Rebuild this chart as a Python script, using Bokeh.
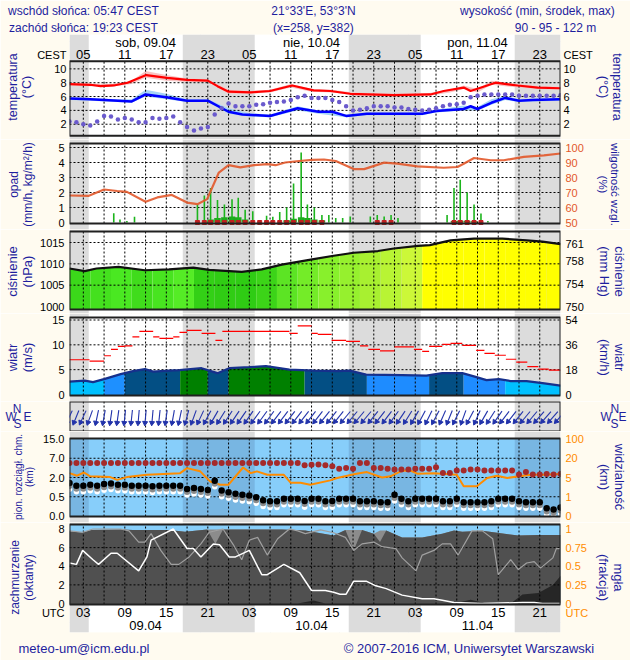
import numpy as np
from bokeh.plotting import figure
from bokeh.models import Range1d, LinearAxis, FixedTicker
from bokeh.layouts import column
from bokeh.embed import file_html
from bokeh.resources import INLINE
from bokeh.core.properties import value

# ===================== DATA =====================
# time axis: hours since 09.04 00 UTC
H_START, H_END = 1, 72
sunrise_h = [3.78, 27.78, 51.78]
sunset_h = [17.38, 41.38, 65.38]
label_hours = [3, 9, 15, 21, 27, 33, 39, 45, 51, 57, 63, 69]
day_mid_h = [12, 36, 60]
days_cest = ["sob, 09.04", "nie, 10.04", "pon, 11.04"]
days_utc = ["09.04", "10.04", "11.04"]
header_line1 = ["wschód słońca: 05:47 CEST", "21°33'E, 53°3'N", "wysokość (min, środek, max)"]
header_line2 = ["zachód słońca: 19:23 CEST", "(x=258, y=382)", "90 - 95 - 122 m"]
footer = ["meteo-um@icm.edu.pl", "© 2007-2016 ICM, Uniwersytet Warszawski"]

# temperature (°C)
temp_h = [1, 4, 5.5, 7.4, 9.4, 12.1, 15.1, 18, 21, 22.4, 24, 27.2, 30, 33.2, 36.3, 38.7, 41.6, 47.9, 53.2, 55.1, 58, 59, 62.6, 65.8, 68.7, 72]
temp = [7.8, 7.7, 7.5, 7.6, 8.0, 9.1, 8.7, 8.4, 8.3, 7.5, 6.7, 6.6, 6.8, 7.6, 6.9, 6.8, 6.4, 6.2, 6.3, 6.8, 7.3, 6.8, 8.0, 7.6, 7.3, 7.2]
temp_band_h = [1, 4, 7, 10, 12, 15, 18, 21, 24, 27, 30, 33, 36, 39, 42, 48, 53, 56, 58, 60, 62, 66, 69, 72]
temp_lo = [7.6, 7.5, 7.4, 7.8, 8.7, 8.3, 8.1, 8.1, 6.4, 6.4, 6.6, 7.3, 6.7, 6.6, 6.2, 6.0, 6.1, 6.6, 7.1, 6.6, 7.7, 7.3, 7.1, 7.0]
temp_hi = [8.0, 7.9, 7.8, 8.3, 9.7, 9.1, 8.6, 8.5, 7.0, 6.8, 7.0, 7.8, 7.1, 7.0, 6.6, 6.4, 6.5, 7.0, 7.6, 7.1, 8.3, 7.8, 7.5, 7.4]
dew_h = [1, 4, 6, 8, 10, 12, 15, 18, 21, 24, 26, 30, 34, 37, 39, 41, 44, 48, 52, 54, 58, 59, 60, 62, 64, 66, 68, 72]
dew = [5.7, 5.6, 5.5, 5.4, 5.3, 6.3, 5.9, 5.4, 5.4, 3.8, 3.4, 3.2, 4.3, 3.8, 3.8, 3.2, 3.5, 3.5, 3.5, 3.9, 4.2, 4.6, 4.2, 5.1, 5.8, 5.4, 5.5, 5.6]
dew_band_h = [1, 4, 8, 10, 12, 15, 18, 21, 24, 27, 30, 34, 37, 41, 44, 48, 52, 54, 58, 60, 62, 64, 66, 68, 72]
dew_lo = [5.5, 5.4, 5.2, 5.1, 6.0, 5.6, 5.2, 5.2, 3.5, 3.1, 3.0, 4.0, 3.5, 3.0, 3.3, 3.3, 3.3, 3.7, 4.0, 4.0, 4.8, 5.5, 5.2, 5.3, 5.4]
dew_hi = [5.9, 5.8, 5.6, 5.6, 7.0, 6.4, 5.6, 5.6, 4.3, 3.6, 3.4, 4.6, 4.0, 3.4, 3.7, 3.7, 3.7, 4.1, 4.7, 4.5, 5.6, 6.1, 5.6, 5.7, 5.8]
hourly_h = list(range(1, 73))
ground_t = [2.4, 2.3, 2.0, 1.8, 2.4, 3.2, 3.1, 2.7, 2.9, 2.7, 2.3, 2.3, 2.9, 2.8, 2.9, 3.1, 2.3, 1.6, 1.1, 1.4,
            1.6, 3.4, 4.3, 5.0, 4.6, 4.6, 4.6, 4.8, 4.9, 5.1, 5.2, 5.3, 5.5, 5.9, 6.1,
            5.8, 5.8, 5.8, 5.5, 5.2, 4.6, 4.0, 4.1, 4.3, 4.6, 4.6, 4.6, 4.4, 4.4, 4.2, 4.1, 4.0, 4.1, 4.3,
            4.6, 4.8, 4.9, 5.1, 5.9, 6.1, 6.3, 6.3, 6.3, 6.3, 6.3, 6.1, 6.1, 6.1, 6.1, 6.1, 6.1, 6.2]

# precipitation (mm/h) and relative humidity (%)
rain_h = [7.4, 8.3, 9.3, 10.4, 19.5, 20.5, 21.4, 22.4, 23.4, 24.5, 25.4, 26.4, 27.5, 28.5, 29.5, 30.4, 31.4, 32.4, 33.4, 34.5,
          35.4, 36.4, 37.5, 38.5, 39.5, 40.5, 41.6, 44.5, 45.5, 46.5, 47.5, 48.5, 55.6, 56.6, 57.5, 58.5, 59.5, 60.5, 61.5]
rain_max = [0.62, 0.2, 0.1, 0.38, 1.2, 1.8, 2.3, 1.5, 1.2, 1.55, 1.65, 0.85, 0.75, 0.1, 0.45, 0.38, 0.7, 1.0, 2.6, 4.67,
            1.2, 1.0, 0.5, 0.5, 0.3, 0.3, 0.4, 0.4, 0.5, 0.4, 0.5, 0.3, 0.5, 2.3, 2.85, 2.0, 1.2, 0.6, 0.1]
rain_mean_h = [21.4, 22.4, 23.4, 24.5, 25.4, 26.4, 32.4, 33.4, 34.5, 35.4, 36.4, 37.5, 56.6, 57.5, 58.5, 59.5]
rain_mean = [0.2, 0.3, 0.35, 0.4, 0.35, 0.2, 0.15, 0.25, 0.35, 0.3, 0.2, 0.15, 0.1, 0.12, 0.12, 0.08]
rain_flag_h = [19.5, 20.5, 21.4, 22.4, 23.4, 24.5, 25.4, 26.4, 27.5, 28.5, 29.5, 30.4, 31.4, 32.4, 33.4, 34.5, 35.4, 36.4, 37.5,
               45.5, 46.5, 47.5, 56.6, 57.5, 58.5, 59.5, 60.5]
hum_h = [1, 3.8, 6, 7.9, 9.3, 12, 13.7, 15.8, 18, 19.5, 20.9, 22.6, 24, 25.7, 27.7, 29.6, 30.8, 32.2, 34.2, 36.1,
         37.8, 39.5, 42.1, 43.6, 46.5, 48.4, 51.3, 55.1, 57.1, 58, 59.5, 61.9, 63.8, 66.7, 69.6, 72]
hum = [68, 67.8, 72, 71, 70.4, 63.8, 66.7, 68.4, 63.3, 62.2, 65.6, 83.3, 88.2, 86.7, 88.2, 88.9, 88.2, 90, 91, 91.8,
       92, 91, 85.6, 85.6, 89.9, 89.2, 87.4, 86.5, 87, 89.2, 93, 91.5, 91.5, 93.7, 94.8, 96]

# pressure (hPa)
press_h = [1, 3.2, 4.9, 8.1, 11.9, 15.4, 18.9, 21.2, 25.9, 28.8, 31.7, 36.3, 39.2, 42.1, 45.6, 47.9, 51.4, 53.1, 56.1, 59.5, 63.6, 67.1, 69.4, 72]
press = [1008.9, 1008.3, 1008.9, 1009.3, 1008.5, 1008.7, 1009.1, 1008.6, 1008.1, 1008.7, 1009.8, 1011.1, 1011.9, 1012.6,
         1013.0, 1013.6, 1014.2, 1014.4, 1015.5, 1015.9, 1015.9, 1015.5, 1015.2, 1014.6]
press_block_edges = [1, 4, 7, 10, 13, 16, 19, 22, 25, 28, 31, 34, 37, 40, 43, 46, 49, 52, 55, 58, 61, 64, 67, 70, 72]
press_block_cols = ["#3bd81a", "#44e01e", "#4ae822", "#40dc1c", "#48e420", "#55ec26", "#33d016", "#30cc14",
                    "#2fcc14", "#3cd418", "#5ce424", "#74ec28", "#88f02c", "#96f02e", "#a8f030", "#b8f434",
                    "#ccf838", "#ffff00", "#ffff00", "#ffff00", "#ffff00", "#ffff00", "#ffff00", "#ffff00"]

# wind (m/s)
wind_h = [1, 3.2, 4.4, 6, 8.4, 10.2, 11.9, 13.1, 15.4, 16.9, 20.1, 22.4, 24.1, 27, 29.4, 32.8, 36.3, 39.8, 41.5, 43.9,
          49.1, 52.6, 54.9, 57.8, 59.6, 61.3, 63.1, 64.8, 67.1, 69.4, 72]
wind = [2.6, 2.8, 2.5, 3.1, 4.1, 4.7, 5.1, 4.6, 4.8, 4.9, 5.3, 4.3, 5.3, 5.5, 5.7, 5.0, 4.8, 4.7, 4.8, 4.0,
        3.9, 3.8, 4.3, 4.3, 3.6, 2.9, 3.1, 2.7, 2.7, 2.3, 1.8]
wind_block_edges = [1, 6, 9, 17, 21, 24, 35, 44, 53, 58, 64, 72]
wind_block_cols = ["#00c0ff", "#1e90ff", "#034f84", "#008000", "#034f84", "#008000", "#034f84", "#1e8cff",
                   "#034f84", "#1e8cff", "#00c0ff"]
gust_edges = [1, 3.9, 6.0, 7.0, 8.0, 9.0, 10.1, 11.1, 13.1, 14.0, 16.0, 16.9, 18.0, 20.1, 22.1, 23.1, 32.8, 34.0, 36.0, 36.9,
              38.9, 41.0, 43.0, 44.2, 45.9, 48.0, 50.8, 52.0, 53.0, 54.9, 56.1, 57.8, 59.8, 61.0, 62.5, 64.1, 65.6, 67.2,
              68.8, 70.3, 72]
gust = [7.0, 6.7, 7.8, 9.1, 9.7, 9.8, 11.6, 12.7, 11.6, 11.3, 11.6, 12.5, 12.9, 12.3, 10.9, 12.7, 12.3, 13.8, 12.3, 12.1,
        10.9, 10.7, 9.8, 9.1, 8.8, 9.6, 9.1, 8.7, 9.7, 10.1, 10.3, 9.9, 8.9, 8.3, 7.9, 7.1, 6.5, 5.6, 5.1, 4.9]
wind_dir = [25, 22, 25, 20,
            12, 10, 8, 8, 6, 6, 5, 5, 5, 6, 8, 10, 12, 15,
            20, 25, 28, 30, 32, 33, 34, 35, 35, 36, 36, 36,
            37, 37, 38, 38, 38, 38, 38, 39, 39, 39, 40, 40, 40, 40, 39,
            38, 37, 36, 34, 32, 30, 28, 26, 28, 24,
            22, 26, 20, 28, 24, 30, 33,
            35, 37, 38, 39, 40, 40, 41, 41, 41, 41]

# cloud top / base (km), visibility (km)
cloud_top = [5.75] * 34 + [5.2, 5.3,
             5.4, 5.2, 4.9, 4.3, 4.5, 4.3, 5.75, 5.75, 4.5, 4.5, 4.3, 4.05, 4.05, 4.05, 4.3, 4.3, 4.3, 4.65, 3.2, 3.2,
             3.8, 3.8, 4.05, 4.05, 3.8, 3.8, 3.8, 3.8, 3.8, 2.8, 3.45, 2.8, 2.8, 2.9, 2.8, 2.9]
cloud_base = [1.57, 1.36, 1.36, 1.44, 1.36, 1.49, 1.54, 1.44, 1.44, 1.36, 1.36, 1.36, 1.31, 1.36, 1.36, 1.36, 1.36, 1.11,
              1.19, 1.11, 1.03, 1.75, 0.98, 0.86, 0.73, 0.65, 0.60, 0.49, 0.41, 0.38, 0.38, 0.45, 0.45, 0.45, 0.39, 0.45,
              0.45, 0.38, 0.39, 0.45, 0.45, 0.45, 0.38, 0.38, 0.38, 0.36, 0.36, 0.65, 0.45, 0.38, 0.45, 0.45, 0.45, 0.45,
              0.38, 0.38, 0.45, 0.36, 0.36, 0.36, 0.36, 0.38, 0.45, 0.45, 0.45, 0.38, 0.36, 0.36, 0.36, 0.2, 0.17, 0.22]
vis_h = [1, 2.1, 3.1, 4, 6.9, 7.9, 9.3, 12.2, 17, 18, 19.9, 21.4, 22.8, 24, 26.1, 27.2, 28.1, 29.6, 32, 33,
         34.4, 35.8, 38.7, 39.7, 42.3, 44, 46.2, 47.4, 49.1, 50.3, 51.3, 53.7, 57, 58, 59.9, 61.4, 62.8, 64.3, 66, 67.7, 69.6, 72]
vis = [8.4, 6.4, 8.9, 5.9, 5.3, 4.5, 5.3, 7.1, 8.4, 12.3, 9.8, 4.1, 3.5, 3.5, 12.8, 8.4, 9.8, 7.1, 7.1, 3.9,
       3.9, 3.5, 4.4, 4.9, 7.7, 9.2, 5.0, 5.9, 10.3, 10.3, 8.0, 8.4, 7.1, 3.2, 3.2, 4.9, 6.4, 4.9, 5.9, 7.1, 7.1, 7.7]
base_ticks_km = [0, 0.5, 2, 7, 15]
vis_ticks_km = [0, 1, 5, 20, 100]

# cloudiness (octants) and fog (fraction)
cl_h = [1, 2.9, 4.1, 8.4, 10.2, 15.4, 17.7, 20.9, 22.1, 23.2, 25.9, 31.7, 35.1, 36.9, 39.2, 40.9, 42.1, 43.3, 45.0, 45.9,
        46.8, 49.1, 52.0, 54.9, 56.6, 57.8, 60.7, 65.9, 68.8, 72]
cl_total = [7.75, 7.6, 7.9, 7.95, 7.9, 7.9, 7.7, 7.95, 7.95, 7.95, 7.95, 7.95, 7.85, 7.6, 7.3, 7.9, 7.9, 7.9, 7.5, 7.85,
            7.85, 7.1, 7.1, 7.5, 7.85, 7.7, 7.8, 7.3, 7.35, 7.35]
cl_lowmid = [7.75, 7.6, 7.9, 7.95, 7.9, 7.9, 7.7, 7.95, 6.4, 7.95, 7.95, 7.95, 7.85, 7.6, 7.3, 7.9, 5.7, 7.9, 7.5, 6.6,
             7.85, 7.1, 7.1, 7.5, 7.85, 7.7, 7.8, 7.3, 7.35, 7.35]
low_h = [1.0, 2.9, 4.4, 8.4, 9.6, 11.0, 11.9, 12.8, 14.2, 15.7, 16.8, 18.3, 20.0, 21.2, 23.2, 24.7, 25.9, 27.0, 28.2, 29.6,
         31.1, 32.8, 34.0, 35.1, 37.3, 39.2, 40.9, 42.1, 43.3, 45.0, 46.2, 48.2, 49.1, 51.1, 52.0, 53.7, 54.9, 56.1, 57.2, 59.2,
         60.7, 62.2, 63.0, 64.8, 65.9, 67.1, 68.2, 69.1, 70.9, 71.4, 72.0]
low = [7.8, 7.65, 8.0, 8.0, 7.8, 6.6, 6.6, 7.5, 5.7, 4.2, 4.2, 5.0, 6.4, 7.65, 8.0, 6.3, 4.7, 6.8, 7.1, 5.2,
       6.95, 8.0, 7.8, 7.5, 7.9, 7.6, 7.1, 5.7, 6.4, 6.6, 6.1, 5.9, 4.9, 3.5, 5.2, 5.7, 6.4, 6.4, 5.2, 7.8,
       7.8, 6.95, 3.1, 4.7, 3.65, 4.35, 4.5, 3.8, 4.9, 5.9, 5.9]
mid_h = [1.0, 2.0, 2.9, 4.4, 5.2, 7.0, 7.9, 11.0, 12.2, 12.8, 16.0, 18.0, 18.9, 20.0, 21.8, 22.7, 24.1, 25.0, 27.0, 28.8,
         29.6, 32.0, 34.3, 36.0, 38.0, 39.2, 40.1, 41.0, 42.1, 43.9, 45.3, 46.8, 49.1, 52.0, 53.7, 54.9, 56.6, 60.7, 66.5, 68.2,
         69.4, 72.0]
mid = [4.35, 4.2, 5.7, 4.7, 4.2, 5.4, 5.4, 3.5, 5.0, 6.8, 8.0, 5.9, 5.9, 5.0, 6.4, 6.3, 5.0, 5.0, 5.7, 3.1,
       3.1, 4.2, 3.3, 1.4, 1.4, 1.2, 1.0, 1.0, 2.4, 2.4, 1.9, 1.6, 0.9, 0.5, 0.5, 0.35, 0.1, 0.0, 0.1, 0.1,
       0.0, 0.0]
fog_h = [1, 34.0, 36.3, 38.0, 56.6, 59.0, 61.3, 64.8, 66.5, 68.8, 70.9, 72]
fog = [0, 0, 0.04, 0, 0, 0.05, 0, 0, 0.12, 0.14, 0.25, 0.37]

# ===================== STYLE / LAYOUT =====================
FONT = "Liberation Sans"
BG = "#fffbf0"
NIGHT = "#dcdcdc"
TITLE_C = "#1e1e9e"
K = 491 / 71.0  # px per hour
night_l = [H_START] + sunset_h
night_r = sunrise_h + [H_END]
grid_hours = list(range(3, 72, 3))
NB = "\u00a0"


def hx(px):
    return round(H_START + (px - 69) / K, 2)


def make_fig(frame_top, frame_bot, ref1, ref2, border_top=0, border_bot=0):
    (p1, v1), (p2, v2) = ref1, ref2
    s = (v2 - v1) / (p2 - p1)
    val = lambda px: v1 + (px - p1) * s
    p = figure(width=630, height=frame_bot - frame_top + border_top + border_bot, x_range=Range1d(H_START, H_END),
               y_range=Range1d(val(frame_bot), val(frame_top)),
               toolbar_location=None, output_backend="svg", x_axis_location=None, y_axis_location=None,
               min_border_left=69, min_border_right=70, min_border_top=border_top, min_border_bottom=border_bot,
               background_fill_color=BG, border_fill_color=BG, outline_line_color=None)
    return p, val


def bands(p, val, px_top, px_bot):
    p.quad(left=[H_START], right=[H_END], bottom=[val(px_bot)], top=[val(px_top)], fill_color="white", line_color=None)
    p.quad(left=night_l, right=night_r, bottom=val(px_bot), top=val(px_top), fill_color=NIGHT, line_color=None)


def gtext(p, xs, ys, texts, size="13px", color="black"):
    p.text(x=xs, y=ys, text=texts, text_font=value(FONT), text_font_size=value(size),
           text_color=color, text_align="center", text_baseline="middle")


def grid(p, vlo, vhi, yvals):
    p.segment(x0=grid_hours, x1=grid_hours, y0=vlo, y1=vhi, line_color="black", line_dash="2 2", line_width=1)
    if yvals:
        p.segment(x0=H_START, x1=H_END, y0=yvals, y1=yvals, line_color="black", line_dash="2 2", line_width=1)


def frame(p, vlo, vhi):
    p.quad(left=[H_START], right=[H_END], bottom=[vlo], top=[vhi], fill_color=None,
           line_color="#202020", line_width=2)


def axis(p, side, ticks, color="black", rng="default", overrides=None, standoff=5, size="11px",
         title=None, title_standoff=0, title_size="13px"):
    kw = dict(ticker=FixedTicker(ticks=ticks), axis_line_color=None,
              major_tick_line_color=None, minor_tick_line_color=None, major_tick_out=0, major_tick_in=0,
              major_label_text_font=FONT, major_label_text_font_size=size,
              major_label_text_color=color, major_label_standoff=int(standoff))
    if side in ("left", "right"):
        kw["y_range_name"] = rng
    ax = LinearAxis(**kw)
    if overrides:
        ax.major_label_overrides = overrides
    if title is not None:
        ax.axis_label = title
        ax.axis_label_standoff = int(title_standoff)
        ax.axis_label_text_font = FONT
        ax.axis_label_text_font_size = title_size
        ax.axis_label_text_font_style = "normal"
        ax.axis_label_text_color = TITLE_C
        ax.axis_label_text_align = "center"
        ax.axis_label_text_line_height = 1.0
    p.add_layout(ax, side)
    return ax


def block_fill(p, xs, ys, edges, cols, base):
    xs = np.asarray(xs, float)
    for a, b, c in zip(edges[:-1], edges[1:], cols):
        bx = np.concatenate([[a], xs[(xs > a) & (xs < b)], [b]])
        by = np.interp(bx, xs, ys)
        p.varea(x=bx, y1=base, y2=by, fill_color=c)


def panel_axes(p, lt, rt, lov=None, rov=None, rcol="black", rrng="default", lw=12, rw=12,
               ltitle="", rtitle="", lsize="13px", rsize="13px", tick_standoff=5):
    axis(p, "left", lt, overrides=lov, standoff=tick_standoff, title=ltitle,
         title_standoff=max(0, round(26 - lw)), title_size=lsize)
    axis(p, "right", rt, color=rcol, rng=rrng, overrides=rov, standoff=tick_standoff, title=rtitle,
         title_standoff=max(0, round(28 - rw)), title_size=rsize)


# ---------- header + top strip + temperature (frame px 29-139) ----------
pT, vT = make_fig(29, 139, (65, 10), (123, 2), border_top=29)
bands(pT, vT, 29, 139)
head_x1 = [hx(83), hx(313), hx(537)]
head_x2 = [hx(83), hx(313), hx(555)]
axis(pT, "above", head_x2, color=TITLE_C, size="12px", standoff=0,
     overrides=dict(zip(head_x2, header_line2)))
axis(pT, "above", head_x1, color=TITLE_C, size="12px", standoff=0,
     overrides=dict(zip(head_x1, header_line1)))
gtext(pT, day_mid_h, [vT(37)] * 3, days_cest)
gtext(pT, label_hours, [vT(50)] * len(label_hours), [f"{(h + 2) % 24:02d}" for h in label_hours])
tlo, thi = vT(135), vT(57)
pT.varea(x=temp_band_h, y1=temp_lo, y2=temp_hi, fill_color="#f8c4c4")
pT.varea(x=dew_band_h, y1=dew_lo, y2=dew_hi, fill_color="#a6d4f6")
grid(pT, tlo, thi, [2, 4, 6, 8, 10])
pT.line(temp_h, temp, line_color="#ff0000", line_width=2.2)
pT.line(dew_h, dew, line_color="#0000ff", line_width=2.5)
pT.scatter(hourly_h, ground_t, size=4.5, color="#6a5acd", line_color=None)
frame(pT, tlo, thi)
panel_axes(pT, [2, 4, 6, 8, 10, 12], [2, 4, 6, 8, 10, 12], lov={12: "CEST"}, rov={12: "CEST"}, lw=29, rw=29,
           ltitle="temperatura\n(°C)", rtitle="temperatura\n(°C)", lsize="12.5px", rsize="12.5px",
           tick_standoff=3)

# ---------- precipitation / humidity (px 139-229) ----------
pP, vP = make_fig(139, 229, (147, 5), (222, 0))
bands(pP, vP, 139, 229)
plo, phi = vP(223), vP(143)
pP.extra_y_ranges = {"hum": Range1d(50 + 10 * vP(229), 50 + 10 * vP(139))}
grid(pP, plo, phi, [1, 2, 3, 4, 5])
pP.vbar(x=rain_mean_h, top=rain_mean, bottom=0, width=0.95, fill_color="#1fa81f", line_color=None)
pP.segment(x0=rain_h, x1=rain_h, y0=0, y1=rain_max, line_color="#1cb41c", line_width=1.6)
pP.scatter(rain_flag_h, [0] * len(rain_flag_h), marker="square", size=4, color="#c02020")
pP.line(hum_h, hum, y_range_name="hum", line_color="#e2582a", line_width=2.2, line_alpha=0.9)
frame(pP, plo, phi)
panel_axes(pP, [0, 1, 2, 3, 4, 5], [50, 60, 70, 80, 90, 100], rcol="#e2582a", rrng="hum", lw=6, rw=18,
           ltitle="opad\n(mm/h, kg/m²/h)", rtitle="wilgotność wzgl.\n(%)", lsize="12px", rsize="11.5px")

# ---------- pressure (px 229-313) ----------
pPr, vPr = make_fig(229, 313, (242, 1015), (306, 1000))
bands(pPr, vPr, 229, 313)
prlo, prhi = vPr(309), vPr(231)
HPA_PER_MMHG = 1.33322
pPr.extra_y_ranges = {"mm": Range1d(vPr(313) / HPA_PER_MMHG, vPr(229) / HPA_PER_MMHG)}
block_fill(pPr, press_h, press, press_block_edges, press_block_cols, prlo)
grid(pPr, prlo, prhi, [1005, 1010, 1015])
pPr.line(press_h, press, line_color="#101010", line_width=2.2)
frame(pPr, prlo, prhi)
panel_axes(pPr, [1000, 1005, 1010, 1015], [750, 754, 758, 761], rrng="mm", lw=24, rw=18,
           ltitle="ciśnienie\n(hPa)", rtitle="ciśnienie\n(mm Hg)")

# ---------- wind (px 313-401) ----------
pW, vW = make_fig(313, 401, (319.5, 15), (394, 0))
bands(pW, vW, 313, 401)
wlo, whi = vW(395), vW(317)
pW.extra_y_ranges = {"kmh": Range1d(vW(401) * 3.6, vW(313) * 3.6)}
block_fill(pW, wind_h, wind, wind_block_edges, wind_block_cols, wlo)
grid(pW, wlo, whi, [5, 10, 15])
pW.line(wind_h, wind, line_color="#16308c", line_width=2.2)
pW.segment(x0=gust_edges[:-1], x1=gust_edges[1:], y0=gust, y1=gust, line_color="#ff0000", line_width=1.2)
frame(pW, wlo, whi)
panel_axes(pW, [0, 5, 10, 15], [0, 18, 36, 54], rrng="kmh", lw=12, rw=12,
           ltitle="wiatr\n(m/s)", rtitle="wiatr\n(km/h)")

# ---------- wind direction arrows (px 401-431) ----------
pA, vA = make_fig(401, 431, (431, 0), (401, 1))
bands(pA, vA, 401, 431)
grid(pA, 0, 1, [])
frame(pA, 0, 1)
bear = np.radians(np.array(wind_dir, float) + 180.0)
vx, vy = np.sin(bear), np.cos(bear)
half = 6.5
hh = np.array(hourly_h, float)
ax0, ax1 = hh - vx * half / K, hh + vx * half / K
ay0, ay1 = 0.5 - vy * half / 30.0, 0.5 + vy * half / 30.0
pA.segment(x0=ax0, y0=ay0, x1=ax1, y1=ay1, line_color="#2233aa", line_width=1.1)
pA.scatter(ax1, ay1, marker="triangle", size=5, angle=-bear, fill_color="#2233aa", line_color="#2233aa")
compass_left = {0.75: "N" + NB * 3, 0.5: "W" + NB * 2 + "E", 0.25: "S" + NB * 3}
compass_right = {0.75: NB * 3 + "N", 0.5: "W" + NB * 2 + "E", 0.25: NB * 3 + "S"}
axis(pA, "left", [0.25, 0.5, 0.75], color=TITLE_C, overrides=compass_left, standoff=38, size="12px")
axis(pA, "right", [0.25, 0.5, 0.75], color=TITLE_C, overrides=compass_right, standoff=40, size="12px")

# ---------- cloud base / top, visibility (px 431-522) ----------
pV, vV = make_fig(431, 522, (438.5, 4), (515.5, 0))
bands(pV, vV, 431, 522)
vlo, vhi = vV(516), vV(438)
pV.quad(left=[H_START], right=[H_END], bottom=[vlo], top=[vhi], fill_color="#87cefa", line_color=None)
pV.quad(left=night_l, right=night_r, bottom=vlo, top=vhi, fill_color="#78b6e2", line_color=None)
grid(pV, vlo, vhi, [1, 2, 3])
tick_idx = [0, 1, 2, 3, 4]
top_i = np.interp(cloud_top, base_ticks_km, tick_idx)
base_i = np.interp(cloud_base, base_ticks_km, tick_idx)
vis_i = np.interp(vis, vis_ticks_km, tick_idx)
pV.line(vis_h, vis_i, line_color="#ff8c00", line_width=2)
pV.scatter(hourly_h, base_i - 0.32, size=5.5, fill_color="white", line_color=None)
pV.scatter(hourly_h, base_i - 0.16, size=6, fill_color="#8a8a8a", line_color=None)
pV.scatter(hourly_h, base_i, size=6.5, fill_color="black", line_color=None)
pV.scatter(hourly_h, top_i, size=6, fill_color="#a52a2a", line_color=None)
frame(pV, vlo, vhi)
panel_axes(pV, tick_idx, tick_idx,
           lov={i: f"{v:.1f}" for i, v in zip(tick_idx, base_ticks_km)},
           rov={i: str(v) for i, v in zip(tick_idx, vis_ticks_km)}, rcol="#ff8c00", lw=21, rw=18,
           ltitle="pion. rozciągł. chm.\n(km)", rtitle="widzialność\n(km)", lsize="10px")

# ---------- cloudiness / fog + bottom strip + footer (frame px 522-632) ----------
pC, vC = make_fig(522, 632, (528.5, 8), (603, 0), border_bot=28)
bands(pC, vC, 522, 632)
clo, chi = vC(604), vC(524)
pC.extra_y_ranges = {"fog": Range1d(vC(632) / 8.0, vC(522) / 8.0)}
pC.quad(left=[H_START], right=[H_END], bottom=[clo], top=[chi], fill_color="#87cefa", line_color=None)
pC.varea(x=cl_h, y1=clo, y2=cl_total, fill_color="#8c8c8c")
pC.varea(x=cl_h, y1=clo, y2=cl_lowmid, fill_color="#505050")
pC.varea(x=fog_h, y1=0, y2=fog, y_range_name="fog", fill_color="#262626")
grid(pC, clo, chi, [2, 4, 6])
pC.line(low_h, low, line_color="#a0a0a0", line_width=1.2)
pC.line(mid_h, mid, line_color="#ffffff", line_width=1.5)
frame(pC, clo, chi)
gtext(pC, label_hours, [vC(612)] * len(label_hours), [f"{h % 24:02d}" for h in label_hours])
gtext(pC, day_mid_h, [vC(625)] * 3, days_utc)
panel_axes(pC, [-1, 0, 2, 4, 6, 8], [-0.125, 0, 0.25, 0.5, 0.75, 1],
           lov={-1: "UTC"}, rov={-0.125: "UTC", 0: "0", 0.25: "0.25", 0.5: "0.5", 0.75: "0.75", 1: "1"},
           rcol="#ff8c00", rrng="fog", lw=23, rw=23,
           ltitle="zachmurzenie\n(oktanty)", rtitle="mgła\n(frakcja)", lsize="12px")
foot_x = [hx(83.5), hx(468.5)]
axis(pC, "below", foot_x, color=TITLE_C, size="13px", standoff=8, overrides=dict(zip(foot_x, footer)))

layout = column(pT, pP, pPr, pW, pA, pV, pC, spacing=0)
open("out.html", "w").write(file_html(layout, INLINE, title="meteogram"))
